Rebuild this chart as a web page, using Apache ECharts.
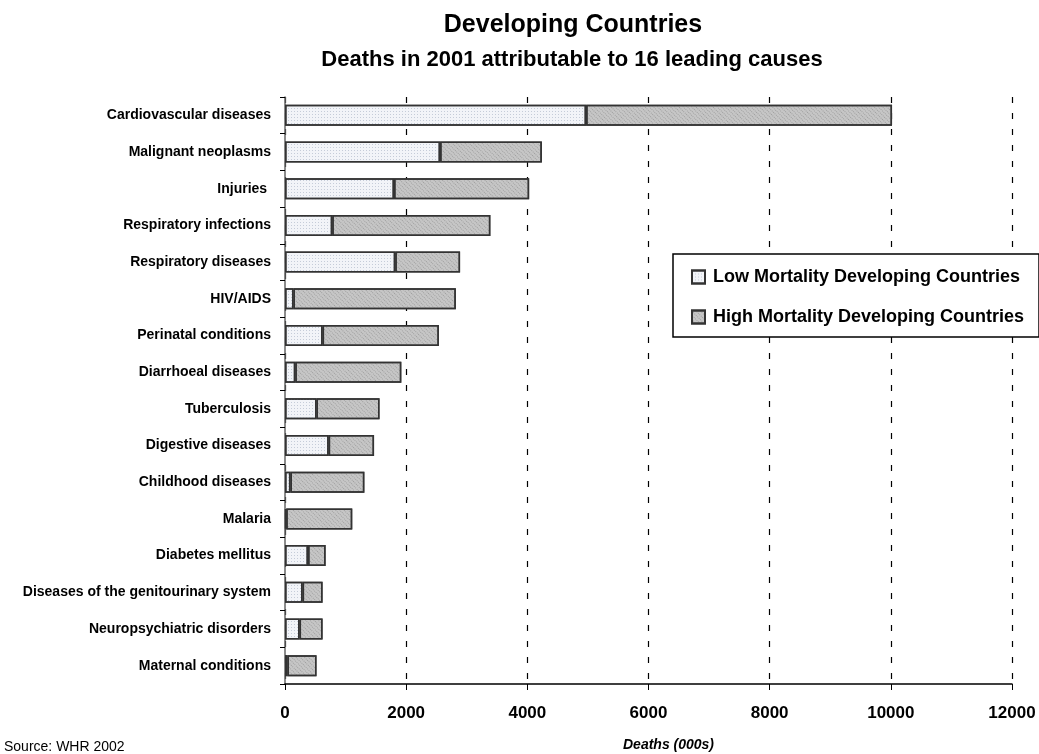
<!DOCTYPE html>
<html>
<head>
    <meta charset="UTF-8">
    <title>Developing Countries - Deaths 2001</title>
    <script src="https://cdn.jsdelivr.net/npm/echarts@6.0.0/dist/echarts.min.js"></script>
    <style>
        html, body { margin: 0; padding: 0; background: #fff; }
        #chart { width: 1039px; height: 754px; }
    </style>
</head>
<body>
    <div id="chart"></div>
    <script>
        // causes, top to bottom
        var causes = [
            'Cardiovascular diseases', 'Malignant neoplasms', 'Injuries ',
            'Respiratory infections', 'Respiratory diseases', 'HIV/AIDS',
            'Perinatal conditions', 'Diarrhoeal diseases', 'Tuberculosis',
            'Digestive diseases', 'Childhood diseases', 'Malaria',
            'Diabetes mellitus', 'Diseases of the genitourinary system',
            'Neuropsychiatric disorders', 'Maternal conditions'
        ];
        // deaths (000s)
        var lowMortality  = [4970, 2560, 1800, 780, 1820, 140, 620, 170, 520, 720, 90, 20, 380, 290, 240, 40];
        var highMortality = [5050, 1680, 2230, 2610, 1070, 2680, 1920, 1750, 1040, 750, 1220, 1090, 290, 330, 380, 480];
        var xTicks = [0, 2000, 4000, 6000, 8000, 10000, 12000];

        var chart = echarts.init(document.getElementById('chart'));
        var font = 'Liberation Sans, Arial, sans-serif';

        var option = {
            backgroundColor: '#fff',
            animation: false,
            title: [
                {
                    text: 'Developing Countries',
                    left: 568, top: 8, textAlign: 'center',
                    textStyle: { fontFamily: font, fontSize: 25, fontWeight: 'bold', color: '#000' }
                },
                {
                    text: 'Deaths in 2001 attributable to 16 leading causes',
                    left: 567, top: 44, textAlign: 'center',
                    textStyle: { fontFamily: font, fontSize: 22, fontWeight: 'bold', color: '#000' }
                }
            ],
            legend: {
                orient: 'vertical',
                left: 673, top: 254,
                padding: [13, 15, 10, 18],
                itemGap: 20,
                itemWidth: 13, itemHeight: 13,
                backgroundColor: '#fff',
                borderColor: '#000', borderWidth: 1.5,
                selectedMode: false,
                icon: 'rect',
                textStyle: { fontFamily: font, fontSize: 18, fontWeight: 'bold', color: '#000', lineHeight: 20, padding: [0, 0, 0, 3] },
                data: ['Low Mortality Developing Countries', 'High Mortality Developing Countries']
            },
            grid: { left: 285, right: 27, top: 97, bottom: 70, outerBoundsMode: 'none' },
            xAxis: {
                type: 'value',
                min: xTicks[0], max: xTicks[xTicks.length - 1], interval: 2000,
                name: 'Deaths (000s)',
                nameLocation: 'middle',
                nameGap: 54,
                nameTextStyle: { fontFamily: font, fontSize: 14, fontWeight: 'bold', fontStyle: 'italic', color: '#000', padding: [0, 0, 0, 40] },
                axisLine: { show: true, lineStyle: { color: '#000', width: 1.5 } },
                axisTick: { show: true, length: 6, lineStyle: { color: '#000', width: 1 } },
                axisLabel: {
                    margin: 21,
                    fontFamily: font, fontSize: 17, fontWeight: 'bold', color: '#000',
                    formatter: function (v) { return String(v); }
                },
                splitLine: { show: true, lineStyle: { color: '#000', width: 1.2, type: [6, 10] } }
            },
            yAxis: {
                type: 'category',
                inverse: true,
                data: causes,
                axisLine: { show: true, lineStyle: { color: '#666', width: 1.5 } },
                axisTick: { show: true, length: 5, lineStyle: { color: '#000' } },
                axisLabel: { margin: 14, fontFamily: font, fontSize: 14, fontWeight: 'bold', color: '#000' }
            },
            series: [
                {
                    name: 'Low Mortality Developing Countries',
                    type: 'bar', stack: 'deaths', barWidth: 21,
                    data: lowMortality,
                    itemStyle: {
                        color: '#f2f4f8', borderColor: '#333', borderWidth: 1.5,
                        decal: { symbol: 'rect', symbolSize: 1, dashArrayX: [1, 2], dashArrayY: [1, 2], color: 'rgba(160,172,190,0.55)' }
                    }
                },
                {
                    name: 'High Mortality Developing Countries',
                    type: 'bar', stack: 'deaths', barWidth: 21,
                    data: highMortality,
                    itemStyle: {
                        color: '#c6c6c6', borderColor: '#333', borderWidth: 1.5,
                        decal: { symbol: 'rect', symbolSize: 1, dashArrayX: [1, 1], dashArrayY: [1, 2], rotation: Math.PI / 4, color: 'rgba(110,110,110,0.45)' }
                    }
                }
            ],
            graphic: [
                {
                    type: 'text', left: 4, top: 740,
                    style: { text: 'Source: WHR 2002', font: '14px ' + font, fill: '#000' }
                }
            ]
        };
        chart.setOption(option);
    </script>
</body>
</html>
